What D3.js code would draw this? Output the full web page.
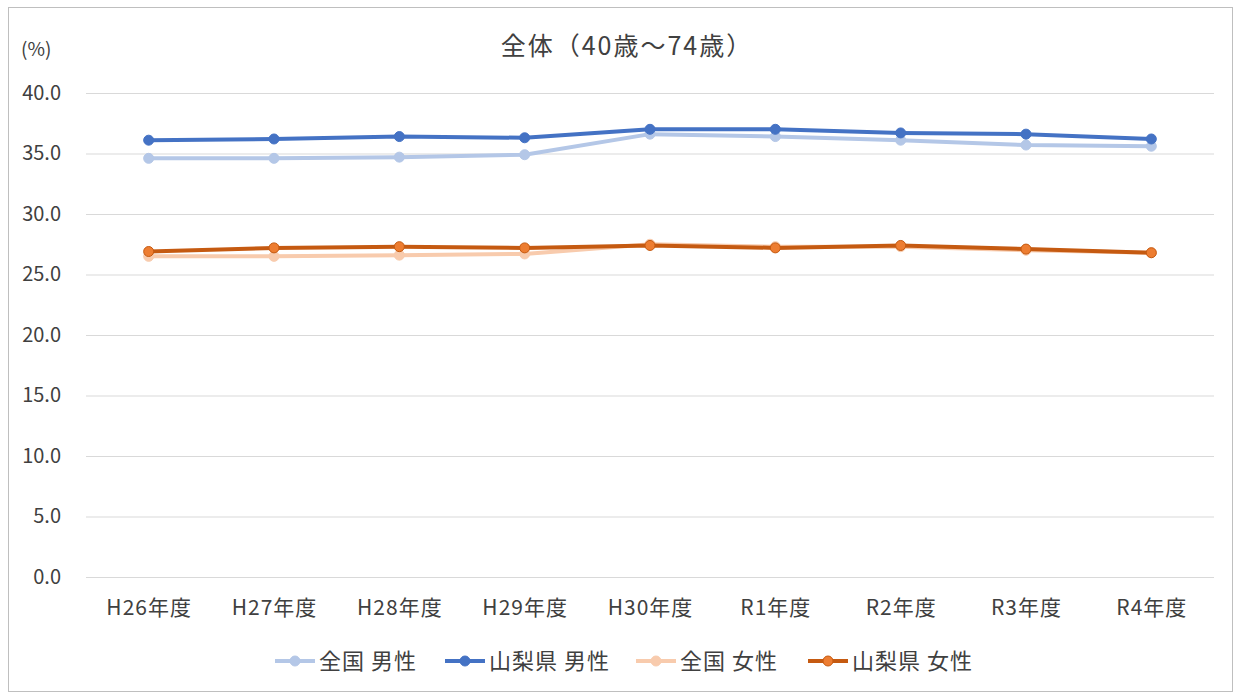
<!DOCTYPE html>
<html>
<head>
<meta charset="utf-8">
<script src="https://cdn.jsdelivr.net/npm/d3@7"></script>
<style>
  body { margin: 0; background: #fff; }
  text { font-family: "Noto Sans CJK JP", "Noto Sans", sans-serif; fill: #404040; }
</style>
</head>
<body>
<div id="chart"></div>
<script>
const categories = ['H26年度', 'H27年度', 'H28年度', 'H29年度', 'H30年度', 'R1年度', 'R2年度', 'R3年度', 'R4年度'];
const seriesNames = ['全国 男性', '山梨県 男性', '全国 女性', '山梨県 女性'];
const zenkokuMale = [34.6, 34.6, 34.7, 34.9, 36.6, 36.4, 36.1, 35.7, 35.6];
const yamanashiMale = [36.1, 36.2, 36.4, 36.3, 37.0, 37.0, 36.7, 36.6, 36.2];
const zenkokuFemale = [26.5, 26.5, 26.6, 26.7, 27.5, 27.3, 27.3, 27.0, 26.8];
const yamanashiFemale = [26.9, 27.2, 27.3, 27.2, 27.4, 27.2, 27.4, 27.1, 26.8];
const yTicks = [0, 5, 10, 15, 20, 25, 30, 35, 40];

const width = 1234;
const height = 693;
const plot = { left: 86, right: 1214, top: 93, bottom: 577 };

const series = [
    { name: seriesNames[0], values: zenkokuMale, line: '#b4c7e7', fill: '#b4c7e7', stroke: '#b4c7e7' },
    { name: seriesNames[1], values: yamanashiMale, line: '#4472c4', fill: '#4472c4', stroke: '#4472c4' },
    { name: seriesNames[2], values: zenkokuFemale, line: '#f8cbad', fill: '#f8cbad', stroke: '#f8cbad' },
    { name: seriesNames[3], values: yamanashiFemale, line: '#c55a11', fill: '#ed7d31', stroke: '#c55a11' }
];

const svg = d3.select('#chart').append('svg')
    .attr('width', width)
    .attr('height', height);

// chart frame
svg.append('rect')
    .attr('x', 8.5).attr('y', 7.5)
    .attr('width', width - 10).attr('height', height - 9)
    .attr('fill', 'none')
    .attr('stroke', '#bfbfbf');

const x = d3.scalePoint()
    .domain(categories)
    .range([plot.left, plot.right])
    .padding(0.5);

const y = d3.scaleLinear()
    .domain([0, 40])
    .range([plot.bottom, plot.top]);

// grid + y labels
const yAxis = d3.axisLeft(y)
    .tickValues(yTicks)
    .tickSize(-(plot.right - plot.left))
    .tickFormat(d3.format('.1f'))
    .tickPadding(25);

const gy = svg.append('g')
    .attr('transform', `translate(${plot.left},0)`)
    .call(yAxis);
gy.select('.domain').remove();
gy.selectAll('line').attr('stroke', '#d9d9d9').attr('stroke-width', 1);
gy.selectAll('text').attr('font-size', 20).style('fill', '#404040');

// x labels
const xAxis = d3.axisBottom(x).tickSize(0).tickPadding(23);
const gx = svg.append('g')
    .attr('transform', `translate(0,${plot.bottom})`)
    .call(xAxis);
gx.select('.domain').remove();
gx.selectAll('text')
    .attr('font-size', 21)
    .attr('letter-spacing', 1)
    .style('fill', '#404040');

// title + unit
svg.append('text')
    .attr('x', 627).attr('y', 55)
    .attr('text-anchor', 'middle')
    .attr('font-size', 25)
    .attr('letter-spacing', 2)
    .text('全体（40歳～74歳）');

svg.append('text')
    .attr('x', 21).attr('y', 56)
    .attr('font-size', 19)
    .text('(%)');

// lines
const line = d3.line()
    .x((d, i) => x(categories[i]))
    .y(d => y(d));

series.forEach(s => {
    const g = svg.append('g');
    g.append('path')
        .datum(s.values)
        .attr('d', line)
        .attr('fill', 'none')
        .attr('stroke', s.line)
        .attr('stroke-width', 4)
        .attr('stroke-linejoin', 'round');
    g.selectAll('circle')
        .data(s.values)
        .enter()
        .append('circle')
        .attr('cx', (d, i) => x(categories[i]))
        .attr('cy', d => y(d))
        .attr('r', 5)
        .attr('fill', s.fill)
        .attr('stroke', s.stroke)
        .attr('stroke-width', 1);
});

// legend
const legendX = [275, 445, 636, 808];
const legend = svg.append('g').attr('transform', 'translate(0,661)');
series.forEach((s, i) => {
    const item = legend.append('g').attr('transform', `translate(${legendX[i]},0)`);
    item.append('line')
        .attr('x1', 0).attr('x2', 40)
        .attr('stroke', s.line)
        .attr('stroke-width', 4);
    item.append('circle')
        .attr('cx', 20).attr('r', 5)
        .attr('fill', s.fill)
        .attr('stroke', s.stroke);
    item.append('text')
        .attr('x', 44).attr('y', 8)
        .attr('font-size', 22)
        .attr('letter-spacing', 1)
        .text(s.name);
});
</script>
</body>
</html>
